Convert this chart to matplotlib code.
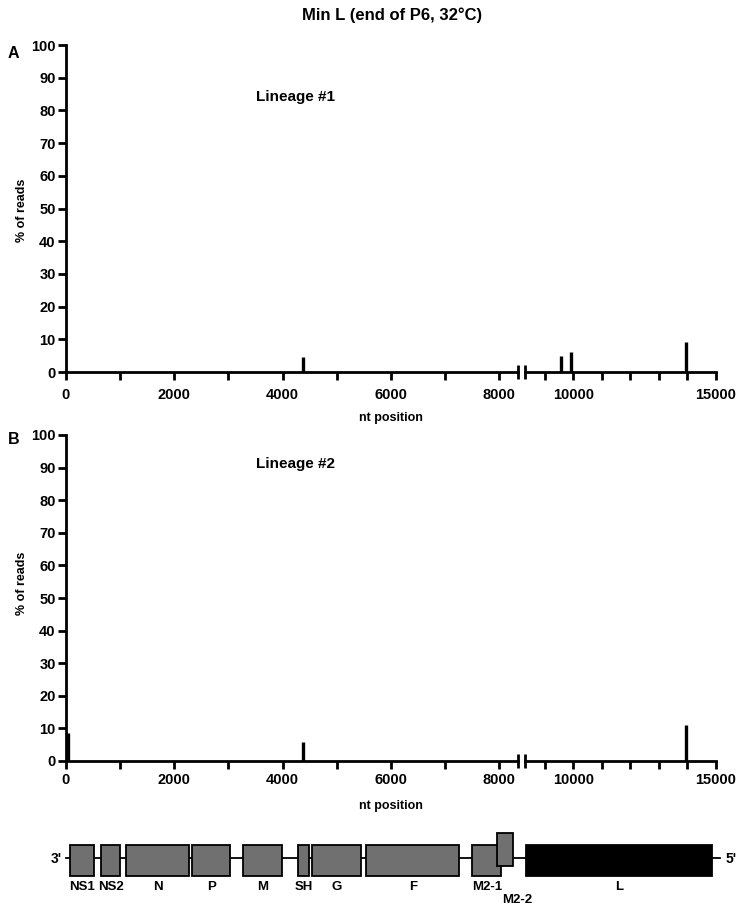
import matplotlib
matplotlib.use('Agg')
import matplotlib.pyplot as plt
from matplotlib.patches import Rectangle

plt.rcParams['font.family'] = ['Liberation Sans', 'DejaVu Sans']
plt.rcParams['font.weight'] = 'bold'

W, H = 747, 908

# variant positions (nt) and frequencies (% of reads)
lin1_pos = [4370, 9570, 9900, 13960]
lin1_pct = [4.6, 5.0, 6.1, 9.3]
lin2_pos = [40, 4370, 13950]
lin2_pct = [8.6, 5.8, 10.9]

# genome map (schematic, nt on the left-segment scale)
genes = ['NS1', 'NS2', 'N', 'P', 'M', 'SH', 'G', 'F', 'M2-1', 'M2-2', 'L']
gene_start = [75, 645, 1110, 2330, 3270, 4290, 4545, 5545, 7505, 7965, 8505]
gene_end = [520, 1000, 2275, 3030, 3995, 4490, 5455, 7265, 8040, 8260, 11940]
genome_end = 12090

LEFT_LIM = (0, 8350)
RIGHT_LIM = (8300, 15000)


def box(l, t, r, b):
    return [l / W, 1 - b / H, (r - l) / W, (b - t) / H]


def style(ax, show_y, xpad):
    for s in ['top', 'right']:
        ax.spines[s].set_visible(False)
    ax.spines['bottom'].set_linewidth(2.0)
    ax.spines['left'].set_linewidth(2.0)
    ax.spines['left'].set_visible(show_y)
    ax.tick_params(which='both', width=2.0, length=5.5, labelsize=10.5, pad=2)
    ax.tick_params(axis='x', which='both', pad=xpad)
    ax.set_ylim(0, 100)
    ax.set_yticks(range(0, 101, 10))
    if not show_y:
        ax.tick_params(axis='y', left=False, labelleft=False)


def panel(top, bottom, pos, pct, xpad):
    ax1 = fig.add_axes(box(66, top, 518, bottom))
    ax2 = fig.add_axes(box(525, top, 716, bottom))
    style(ax1, True, xpad)
    style(ax2, False, xpad)
    ax1.set_xlim(*LEFT_LIM)
    ax2.set_xlim(*RIGHT_LIM)
    ax1.set_xticks(range(0, 8001, 2000))
    ax1.set_xticks(range(1000, 8001, 2000), minor=True)
    ax2.set_xticks([10000, 15000])
    ax2.set_xticks([9000, 11000, 12000, 13000, 14000], minor=True)
    for a in (ax1, ax2):
        a.vlines(pos, 0, pct, colors='black', linewidth=2.4)
    # break marks
    ax1.plot([1], [0], marker='|', markersize=10, mew=2.0, color='black',
             transform=ax1.transAxes, clip_on=False)
    ax2.plot([0], [0], marker='|', markersize=10, mew=2.0, color='black',
             transform=ax2.transAxes, clip_on=False)
    return ax1, ax2


def ftext(x, y, s, **kw):
    fig.text(x / W, 1 - y / H, s, ha=kw.pop('ha', 'center'),
             va=kw.pop('va', 'center'), weight='bold', **kw)


fig = plt.figure(figsize=(W / 100, H / 100), dpi=100)

panel(45, 372, lin1_pos, lin1_pct, 6)
panel(435, 761, lin2_pos, lin2_pct, 3)

ftext(392, 15, 'Min L (end of P6, 32°C)', fontsize=12)
ftext(8, 53, 'A', fontsize=11.5, ha='left')
ftext(8, 439, 'B', fontsize=11.5, ha='left')
ftext(296, 97, 'Lineage #1', fontsize=11)
ftext(296, 464, 'Lineage #2', fontsize=11)
ftext(22, 210, '% of reads', fontsize=9, rotation=90)
ftext(22, 583, '% of reads', fontsize=9, rotation=90)
ftext(391, 418, 'nt position', fontsize=9)
ftext(391, 806, 'nt position', fontsize=9)

# genome map
scale = (518 - 66) / (LEFT_LIM[1] - LEFT_LIM[0])
axm = fig.add_axes(box(40, 820, 747, 908))
axm.set_xlim((40 - 66) / scale, (747 - 66) / scale)
axm.set_ylim(908, 820)
axm.axis('off')
axm.plot([0, genome_end], [858, 858], color='black', lw=1.3, zorder=1)
for g, s, e in zip(genes, gene_start, gene_end):
    if g == 'M2-2':
        top, bot = 833, 866
    else:
        top, bot = 845, 876
    color = 'black' if g == 'L' else '#707070'
    axm.add_patch(Rectangle((s, top), e - s, bot - top, facecolor=color,
                            edgecolor='black', lw=1.3, zorder=3 if g == 'M2-2' else 2))
    mid = (s + e) / 2
    if g == 'M2-2':
        axm.text(mid + 220, 900, g, ha='center', va='center', fontsize=9.5, weight='bold')
    else:
        axm.text(mid, 887, g, ha='center', va='center', fontsize=9.5, weight='bold')
axm.text(-80, 859, "3'", ha='right', va='center', fontsize=10, weight='bold')
axm.text(genome_end + 100, 859, "5'", ha='left', va='center', fontsize=10, weight='bold')

fig.savefig('out.png', dpi=100)
